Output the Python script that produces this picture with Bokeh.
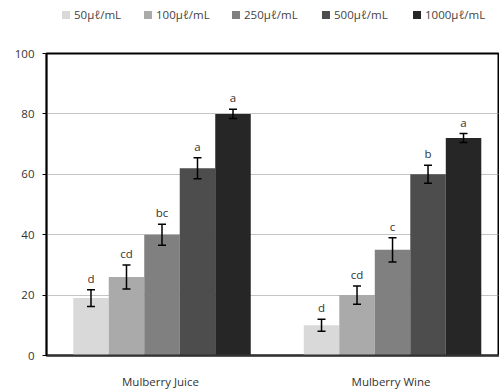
from bokeh.plotting import figure
from bokeh.layouts import column
from bokeh.models import ColumnDataSource, FixedTicker, Whisker, Range1d, Div
from bokeh.core.properties import value
from bokeh.embed import file_html
from bokeh.resources import INLINE

groups = ["Mulberry  Juice", "Mulberry  Wine"]
doses = ["50\u03bc\u2113/mL", "100\u03bc\u2113/mL", "250\u03bc\u2113/mL", "500\u03bc\u2113/mL", "1000\u03bc\u2113/mL"]
juice = [19, 26, 40, 62, 80]
juice_err = [2.8, 4.0, 3.5, 3.5, 1.5]
juice_sig = ["d", "cd", "bc", "a", "a"]
wine = [10, 20, 35, 60, 72]
wine_err = [2.0, 3.0, 4.0, 3.0, 1.5]
wine_sig = ["d", "cd", "c", "b", "a"]
colors = ["#d9d9d9", "#aaaaaa", "#808080", "#4d4d4d", "#262626"]

FONT = "Open Sans"
W = 0.154

# legend strip (HTML)
lefts = [62, 144, 232, 322, 413]
parts = []
for left, d, c in zip(lefts, doses, colors):
    parts.append(
        f'<span style="position:absolute;left:{left}px;top:7px;white-space:nowrap;">'
        f'<span style="display:inline-block;width:8px;height:8px;background:{c};'
        f'margin-right:4px;vertical-align:0px;"></span>{d}</span>')
html = (f'<div style="position:relative;width:499px;height:45px;font-family:\'{FONT}\';'
        f'font-size:11.5px;color:#444444;line-height:16px;">' + "".join(parts) + '</div>')
lg = Div(text=html, width=499, height=45, margin=0)

p = figure(width=499, height=346, output_backend="svg", toolbar_location=None,
           x_range=Range1d(-0.501, 1.464), y_range=Range1d(0, 100),
           min_border_left=46, min_border_top=8, min_border_bottom=34, min_border_right=0)
p.background_fill_color = "white"
p.border_fill_color = "white"
p.outline_line_color = "black"
p.outline_line_width = 2

for i, d in enumerate(doses):
    off = (i - 2) * W
    src = ColumnDataSource(dict(
        x=[0 + off, 1 + off],
        top=[juice[i], wine[i]],
        upper=[juice[i] + juice_err[i], wine[i] + wine_err[i]],
        lower=[juice[i] - juice_err[i], wine[i] - wine_err[i]],
        sig=[juice_sig[i], wine_sig[i]],
    ))
    p.vbar(x="x", top="top", width=W, bottom=0, source=src,
           fill_color=colors[i], line_color=None)
    wk = Whisker(base="x", upper="upper", lower="lower", source=src,
                 line_color="black", line_width=1.5, level="overlay")
    wk.upper_head.size = 8
    wk.lower_head.size = 8
    wk.upper_head.line_width = 1.5
    wk.lower_head.line_width = 1.5
    p.add_layout(wk)
    p.text(x="x", y="upper", text="sig", source=src, text_align="center",
           text_baseline="bottom", y_offset=-4, text_font_size="11.5px",
           text_color="#333333", text_font=value(FONT))

p.yaxis.ticker = FixedTicker(ticks=[0, 20, 40, 60, 80, 100])
p.yaxis.axis_line_color = "black"
p.yaxis.axis_line_width = 1.5
p.yaxis.major_tick_out = 4
p.yaxis.major_tick_in = 0
p.yaxis.minor_tick_line_color = None
p.yaxis.major_label_standoff = 8
p.yaxis.major_label_text_font_size = "11.5px"
p.yaxis.major_label_text_color = "#333333"
p.yaxis.major_label_text_font = FONT

p.xaxis.ticker = FixedTicker(ticks=[0, 1])
p.xaxis.major_label_overrides = {0: groups[0], 1: groups[1]}
p.xaxis.axis_line_color = "#333333"
p.xaxis.axis_line_width = 2
p.xaxis.major_tick_line_color = None
p.xaxis.major_tick_out = 0
p.xaxis.major_tick_in = 0
p.xaxis.minor_tick_line_color = None
p.xaxis.major_label_standoff = 18
p.xaxis.major_label_text_font_size = "11.5px"
p.xaxis.major_label_text_color = "#333333"
p.xaxis.major_label_text_font = FONT

p.xgrid.grid_line_color = None
p.ygrid.ticker = FixedTicker(ticks=[20, 40, 60, 80])
p.ygrid.grid_line_color = "#888888"
p.ygrid.grid_line_dash = "1 1"
p.ygrid.grid_line_width = 1

layout = column(lg, p, spacing=0)
open("out.html", "w").write(file_html(layout, INLINE))
